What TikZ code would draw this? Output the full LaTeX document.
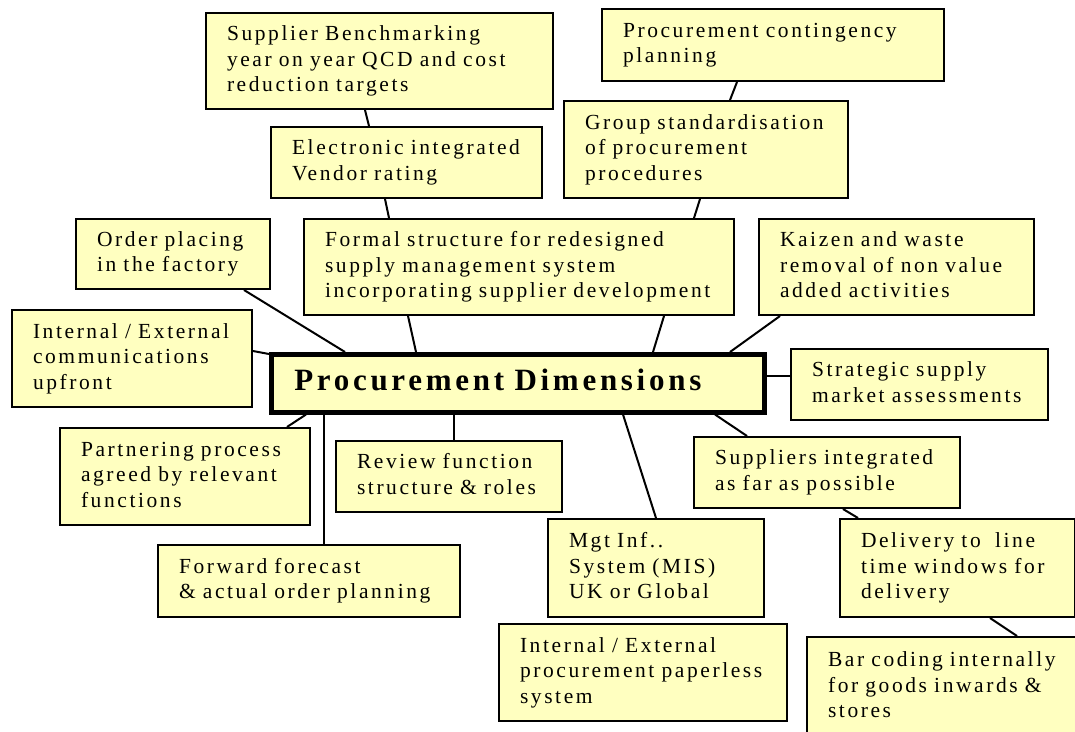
\documentclass[tikz,border=0pt]{standalone}
\usepackage{fontspec}
\setmainfont{Liberation Serif}[LetterSpace=12]
\usetikzlibrary{backgrounds}
\definecolor{boxfill}{RGB}{255,255,192}
% left-aligned stack of lines, never rewrapped
\newcommand{\boxlines}[1]{\begin{tabular}{@{}l@{}}#1\end{tabular}}

\begin{document}
\begin{tikzpicture}[x=1pt, y=-1pt,
  box/.style={draw=black, fill=boxfill, line width=2pt, anchor=north west,
    inner xsep=21pt, inner ysep=0pt, align=left,
    font=\fontsize{21.5}{25.5}\selectfont},
  wh/.style n args={2}{minimum width=#1pt, minimum height=#2pt,
    /utils/exec={\pgfmathsetmacro\boxtw{#1-42}}, text width=\boxtw pt},
  hub/.style={draw=black, fill=boxfill, line width=4.5pt, anchor=north west,
    inner xsep=23pt, inner ysep=0pt, align=left,
    font=\fontsize{31}{37}\selectfont\bfseries},
  link/.style={draw=black, line width=2pt}]

\clip (0,0) rectangle (1075,731);

% central node
\node[hub, minimum width=493pt, minimum height=58pt, text width=447pt]
  (central) at (269,352) {\boxlines{Procurement Dimensions}};

% upper branch
\node[box, wh={347}{96}] (bench) at (205,12)
  {\boxlines{Supplier Benchmarking\\year on year QCD and cost\\reduction targets}};
\node[box, wh={342}{72}] (conting) at (601,8)
  {\boxlines{Procurement contingency\\planning}};
\node[box, wh={271}{71}] (vendor) at (270,126)
  {\boxlines{Electronic integrated\\Vendor rating}};
\node[box, wh={284}{97}] (groupstd) at (563,100)
  {\boxlines{Group standardisation\\of procurement\\procedures}};
\node[box, wh={194}{70}] (order) at (75,218)
  {\boxlines{Order placing\\in the factory}};
\node[box, wh={430}{96}] (formal) at (303,218)
  {\boxlines{Formal structure for redesigned\\supply management system\\incorporating supplier development}};
\node[box, wh={275}{96}] (kaizen) at (758,218)
  {\boxlines{Kaizen and waste\\removal of non value\\added activities}};

% side branches
\node[box, wh={240}{97}] (comms) at (11,309)
  {\boxlines{Internal / External\\communications\\upfront}};
\node[box, wh={257}{71}] (strategic) at (790,348)
  {\boxlines{Strategic supply\\market assessments}};

% lower branch
\node[box, wh={250}{97}] (partner) at (59,427)
  {\boxlines{Partnering process\\agreed by relevant\\functions}};
\node[box, wh={226}{71}] (review) at (335,440)
  {\boxlines{Review function\\structure \& roles}};
\node[box, wh={266}{71}] (suppliers) at (693,436)
  {\boxlines{Suppliers integrated\\as far as possible}};
\node[box, wh={302}{72}] (forward) at (157,544)
  {\boxlines{Forward forecast\\\& actual order planning}};
\node[box, wh={216}{98}] (mis) at (547,518)
  {\boxlines{Mgt Inf..\\System (MIS)\\UK or Global}};
\node[box, wh={235}{98}] (delivery) at (839,518)
  {\boxlines{Delivery to\ \ line\\time windows for\\delivery}};
\node[box, wh={288}{97}] (paperless) at (498,623)
  {\boxlines{Internal / External\\procurement paperless\\system}};
\node[box, wh={285}{100}] (barcode) at (806,636)
  {\boxlines{Bar coding internally\\for goods inwards \&\\stores}};

% white page, then the connectors beneath the boxes
\begin{scope}[on background layer]
  \fill[white] (0,0) rectangle (1075,731);
  \draw[link] ([xshift=160pt]bench.south west) -- ([xshift=99pt]vendor.north west);
  \draw[link] ([xshift=115pt]vendor.south west) -- ([xshift=86pt]formal.north west);
  \draw[link] ([xshift=136pt]conting.south west) -- ([xshift=167pt]groupstd.north west);
  \draw[link] ([xshift=137pt]groupstd.south west) -- ([xshift=391pt]formal.north west);
  \draw[link] ([xshift=169pt]order.south west) -- ([xshift=76pt]central.north west);
  \draw[link] ([xshift=105pt]formal.south west) -- ([xshift=147pt]central.north west);
  \draw[link] ([xshift=361pt]formal.south west) -- ([xshift=384pt]central.north west);
  \draw[link] ([xshift=22pt]kaizen.south west) -- ([xshift=461pt]central.north west);
  \draw[link] ([yshift=-42pt]comms.north east) -- ([yshift=-2pt]central.north west);
  \draw[link] ([yshift=-24pt]central.north east) -- ([yshift=-28pt]strategic.north west);
  \draw[link] ([xshift=37pt]central.south west) -- ([xshift=228pt]partner.north west);
  \draw[link] ([xshift=55pt]central.south west) -- ([xshift=167pt]forward.north west);
  \draw[link] ([xshift=185pt]central.south west) -- ([xshift=119pt]review.north west);
  \draw[link] ([xshift=354pt]central.south west) -- ([xshift=109pt]mis.north west);
  \draw[link] ([xshift=446pt]central.south west) -- ([xshift=54pt]suppliers.north west);
  \draw[link] ([xshift=150pt]suppliers.south west) -- ([xshift=19pt]delivery.north west);
  \draw[link] ([xshift=151pt]delivery.south west) -- ([xshift=211pt]barcode.north west);
\end{scope}
\end{tikzpicture}
\end{document}
